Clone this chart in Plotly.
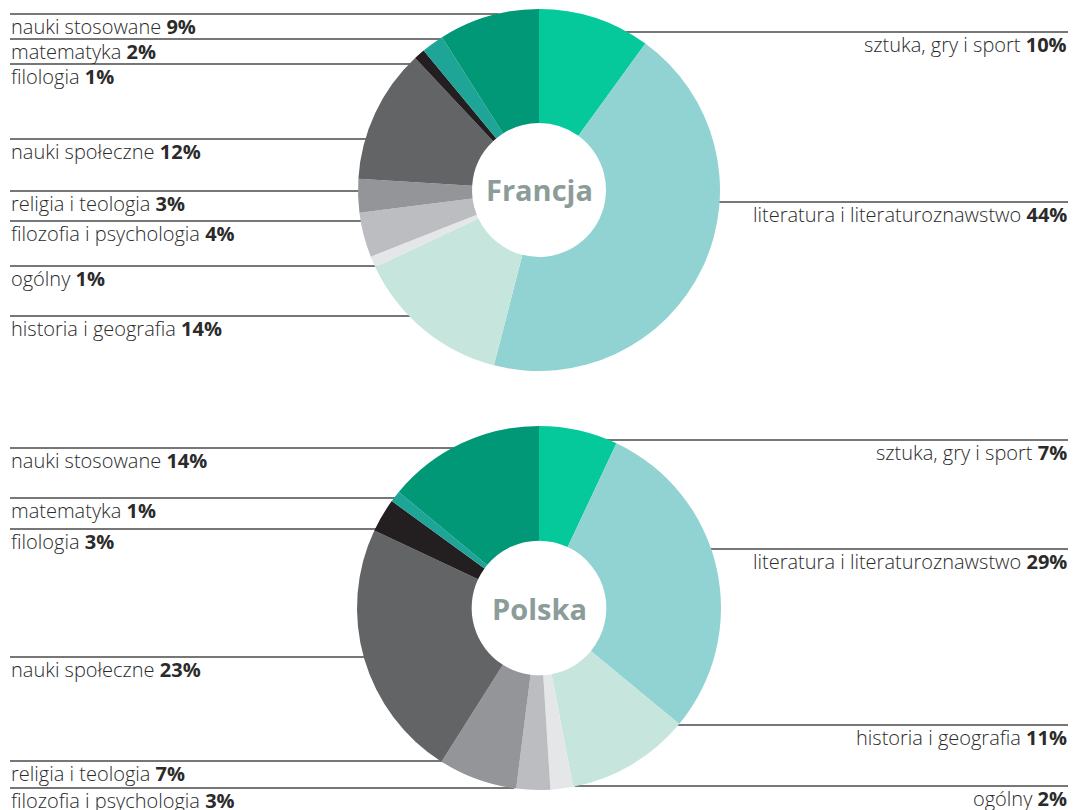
import math
import plotly.graph_objects as go

# ---- data ----
categories = ["sztuka, gry i sport", "literatura i literaturoznawstwo", "historia i geografia",
              "ogólny", "filozofia i psychologia", "religia i teologia", "nauki społeczne",
              "filologia", "matematyka", "nauki stosowane"]
francja_values = [10, 44, 14, 1, 4, 3, 12, 1, 2, 9]
polska_values = [7, 29, 11, 2, 3, 7, 23, 3, 1, 14]
chart_titles = ["Francja", "Polska"]

# ---- styling / layout ----
colors = ["#06c99b", "#91d3d2", "#c5e5dd", "#e5e6e7", "#bbbdc0",
          "#939598", "#636466", "#231f20", "#1fa598", "#009877"]

W, H = 1074, 810
FONT = "Open Sans"

# pie geometry in pixels: centre x, centre y, radius
geom = [(539, 190, 181), (539, 608, 182)]
hole = 0.37

# label placement: (side, y of guide line in px) per category, per chart
label_layout = [
    {
        "sztuka, gry i sport": ("R", 32),
        "literatura i literaturoznawstwo": ("R", 202),
        "historia i geografia": ("L", 316),
        "ogólny": ("L", 266),
        "filozofia i psychologia": ("L", 221),
        "religia i teologia": ("L", 191),
        "nauki społeczne": ("L", 139),
        "filologia": ("L", 64),
        "matematyka": ("L", 39),
        "nauki stosowane": ("L", 14),
    },
    {
        "sztuka, gry i sport": ("R", 440),
        "literatura i literaturoznawstwo": ("R", 549),
        "historia i geografia": ("R", 725),
        "ogólny": ("R", 786),
        "filozofia i psychologia": ("L", 788),
        "religia i teologia": ("L", 761),
        "nauki społeczne": ("L", 657),
        "filologia": ("L", 529),
        "matematyka": ("L", 498),
        "nauki stosowane": ("L", 448),
    },
]

LEFT_X, RIGHT_X = 10, 1068
TEXT_OFFSET = 12.5


def px(x):
    return x / W


def py(y):
    return 1 - y / H


fig = go.Figure()
shapes = []
annotations = []

for idx, values in enumerate([francja_values, polska_values]):
    cx, cy, r = geom[idx]
    fig.add_trace(go.Pie(
        labels=categories,
        values=values,
        sort=False,
        direction="clockwise",
        rotation=0,
        hole=hole,
        marker=dict(colors=colors, line=dict(width=0)),
        textinfo="none",
        hoverinfo="label+percent",
        showlegend=False,
        domain=dict(x=[px(cx - r), px(cx + r)], y=[py(cy + r), py(cy - r)]),
    ))
    annotations.append(dict(
        x=px(cx), y=py(cy), xref="paper", yref="paper",
        text=f"<b>{chart_titles[idx]}</b>", showarrow=False,
        font=dict(family=FONT, size=29, color="#8c9c99"),
        xanchor="center", yanchor="middle",
    ))
    for cat, val in zip(categories, values):
        side, ly = label_layout[idx][cat]
        dy = ly - cy
        dx = math.sqrt(max(r * r - dy * dy, 0))
        if side == "L":
            x0, x1 = LEFT_X, cx - dx + 2
        else:
            x0, x1 = cx + dx - 2, RIGHT_X
        shapes.append(dict(
            type="line", xref="paper", yref="paper", layer="below",
            x0=px(x0), x1=px(x1), y0=py(ly), y1=py(ly),
            line=dict(color="#4a4a4a", width=1.3),
        ))
        annotations.append(dict(
            x=px(LEFT_X if side == "L" else RIGHT_X), y=py(ly + TEXT_OFFSET),
            xref="paper", yref="paper",
            text=f"{cat} <b>{val}%</b>", showarrow=False,
            font=dict(family=FONT, size=20, color="#2b2b2b", weight=300),
            xanchor="left" if side == "L" else "right", yanchor="middle",
            borderpad=0,
        ))

fig.update_layout(
    width=W, height=H,
    margin=dict(l=0, r=0, t=0, b=0),
    paper_bgcolor="white", plot_bgcolor="white",
    shapes=shapes, annotations=annotations,
)

fig.write_html("out.html", config={"displayModeBar": False},
               post_script="document.body.style.margin='0';document.body.style.overflow='hidden';")
